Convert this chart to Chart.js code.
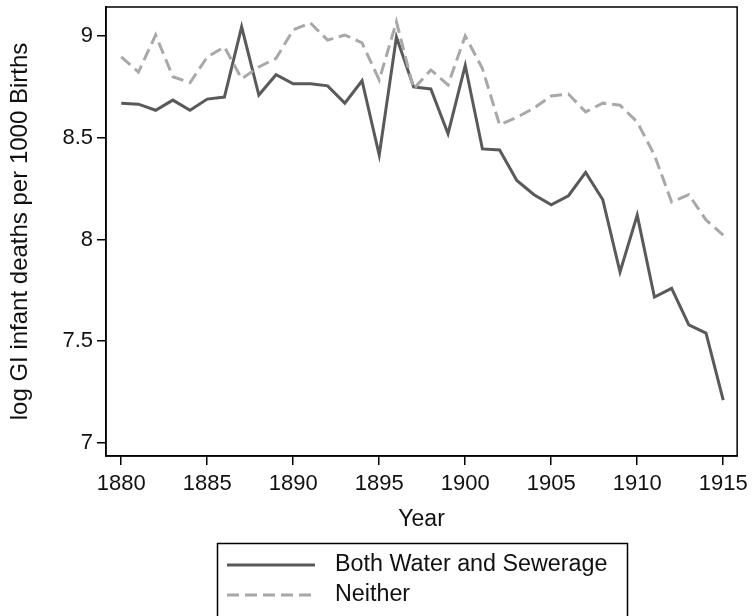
<!DOCTYPE html>
<html>
<head>
<meta charset="utf-8">
<script src="https://cdn.jsdelivr.net/npm/chart.js@4/dist/chart.umd.min.js"></script>
<style>
  html, body { margin: 0; padding: 0; background: #fff; }
  #wrap { width: 754px; height: 616px; }
</style>
</head>
<body>
<div id="wrap"><canvas id="c" width="754" height="616"></canvas></div>
<script>
const years = [1880,1881,1882,1883,1884,1885,1886,1887,1888,1889,1890,1891,1892,1893,1894,1895,1896,1897,1898,1899,1900,1901,1902,1903,1904,1905,1906,1907,1908,1909,1910,1911,1912,1913,1914,1915];
const bothWaterSewerage = [8.67,8.665,8.635,8.685,8.635,8.69,8.70,9.045,8.71,8.81,8.765,8.765,8.755,8.67,8.78,8.415,8.995,8.75,8.74,8.52,8.855,8.445,8.44,8.29,8.22,8.17,8.215,8.33,8.195,7.84,8.12,7.717,7.76,7.58,7.54,7.21];
const neither = [8.897,8.823,9.005,8.80,8.77,8.897,8.946,8.79,8.848,8.89,9.03,9.064,8.98,9.005,8.966,8.784,9.07,8.74,8.833,8.76,9.0,8.84,8.563,8.60,8.646,8.705,8.715,8.627,8.67,8.66,8.577,8.415,8.184,8.22,8.096,8.022];
const seriesLabels = ["Both Water and Sewerage", "Neither"];
const xTicks = [1880,1885,1890,1895,1900,1905,1910,1915];
const yTicks = [7,7.5,8,8.5,9];
const yTitle = "log GI infant deaths per 1000 Births";
const xTitle = "Year";

const FONT = "'Liberation Sans', Arial, Helvetica, sans-serif";
const TXT = '#111';
const SOLID = '#5a5a5a';
const DASH = '#a8a8a8';

const framePlugin = {
  id: 'frame',
  afterDraw(chart) {
    const {ctx, chartArea: a} = chart;
    ctx.save();
    ctx.strokeStyle = '#000';
    ctx.lineWidth = 1.5;
    ctx.strokeRect(a.left, a.top, a.right - a.left, a.bottom - a.top);
    // legend box
    const ds = chart.data.datasets;
    ctx.strokeRect(217.5, 543.5, 410, 90);
    const rows = [565, 595];
    ds.forEach((d, i) => {
      ctx.beginPath();
      ctx.setLineDash(d.borderDash || []);
      ctx.strokeStyle = d.borderColor;
      ctx.lineWidth = d.borderWidth;
      ctx.moveTo(227, rows[i]);
      ctx.lineTo(315, rows[i]);
      ctx.stroke();
      ctx.setLineDash([]);
      ctx.fillStyle = TXT;
      ctx.font = '23.3px ' + FONT;
      ctx.textBaseline = 'middle';
      ctx.textAlign = 'left';
      ctx.fillText(d.label, 335, rows[i]);
    });
    ctx.restore();
  }
};

new Chart(document.getElementById('c'), {
  type: 'line',
  data: {
    datasets: [
      {
        label: seriesLabels[0],
        data: years.map((y, i) => ({x: y, y: bothWaterSewerage[i]})),
        borderColor: SOLID,
        borderWidth: 3,
        pointRadius: 0,
        tension: 0,
        fill: false,
        order: 1
      },
      {
        label: seriesLabels[1],
        data: years.map((y, i) => ({x: y, y: neither[i]})),
        borderColor: DASH,
        borderWidth: 3,
        borderDash: [12, 6],
        pointRadius: 0,
        tension: 0,
        fill: false,
        order: 0
      }
    ]
  },
  options: {
    responsive: false,
    animation: false,
    devicePixelRatio: 1,
    layout: { padding: { left: 0, top: 7, right: 14, bottom: 83 } },
    plugins: { legend: { display: false }, tooltip: { enabled: false } },
    scales: {
      x: {
        type: 'linear',
        min: 1879.114,
        max: 1915.81,
        afterBuildTicks(s) { s.ticks = xTicks.map(v => ({value: v})); },
        afterFit(s) { s.height = 77; },
        grid: { drawOnChartArea: false, drawTicks: true, tickLength: 9, color: '#000', lineWidth: 1.5 },
        border: { display: true, color: '#000', width: 1.5 },
        ticks: { color: TXT, font: { family: FONT, size: 22 }, padding: 6, maxRotation: 0, autoSkip: false, callback: v => String(v) },
        title: { display: true, text: xTitle, color: TXT, font: { family: FONT, size: 23 }, padding: { top: 0, bottom: 0 } }
      },
      y: {
        type: 'linear',
        min: 6.936,
        max: 9.1425,
        afterBuildTicks(s) { s.ticks = yTicks.map(v => ({value: v})); },
        afterFit(s) { s.width = 106; s.paddingTop = 0; s.paddingBottom = 0; },
        grid: { drawOnChartArea: false, drawTicks: true, tickLength: 9, color: '#000', lineWidth: 1.5 },
        border: { display: true, color: '#000', width: 1.5 },
        ticks: { color: TXT, font: { family: FONT, size: 22 }, padding: 4, callback: v => String(v) },
        title: { display: true, text: yTitle, color: TXT, font: { family: FONT, size: 24 }, padding: { top: 6, bottom: 0 } }
      }
    }
  },
  plugins: [framePlugin]
});
</script>
</body>
</html>
